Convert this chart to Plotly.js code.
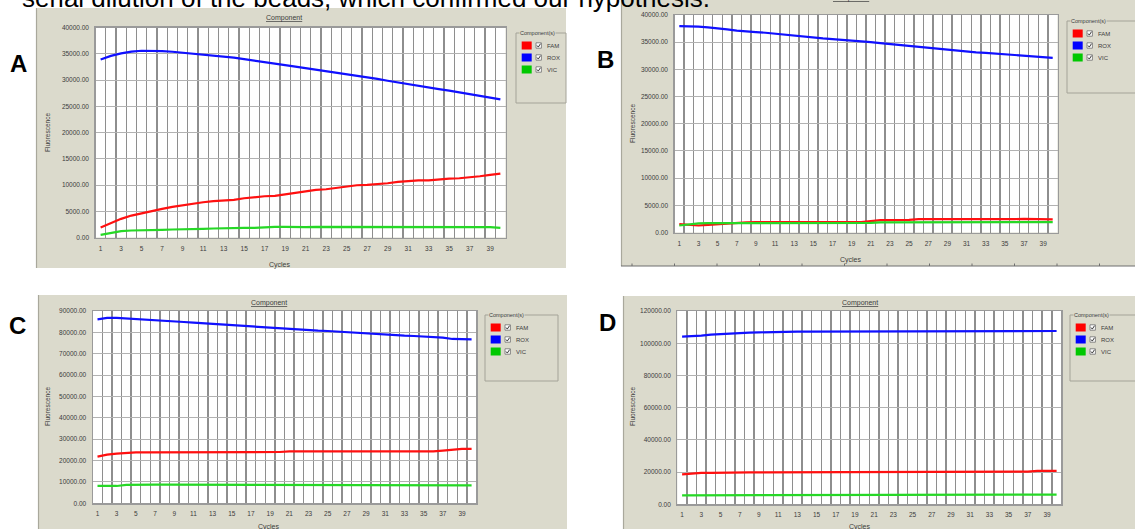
<!DOCTYPE html>
<html>
<head>
<meta charset="utf-8">
<script src="https://cdn.plot.ly/plotly-3.0.1.min.js"></script>
<style>
  html, body { margin: 0; padding: 0; background: #ffffff; }
  #chart { width: 1135px; height: 529px; }
</style>
</head>
<body>
<div id="chart"></div>
<script>
// Cycle axis and tick labels
const cycles = [1,2,3,4,5,6,7,8,9,10,11,12,13,14,15,16,17,18,19,20,
                21,22,23,24,25,26,27,28,29,30,31,32,33,34,35,36,37,38,39,40];
const tickCycles = [1,3,5,7,9,11,13,15,17,19,21,23,25,27,29,31,33,35,37,39];
const seriesNames = ['FAM', 'ROX', 'VIC'];
const panelLabels = ['A', 'B', 'C', 'D'];
const captionText = 'serial dilution of the beads, which confirmed our hypothesis.';

// Panel A
const famA = [1900,2730,3550,4180,4630,5070,5450,5830,6150,6470,
              6720,6910,6970,7160,7480,7730,7860,7930,8240,8500,
              8880,9070,9190,9450,9760,9950,10020,10140,10330,10590,
              10780,10900,10900,11100,11220,11290,11410,11670,11920,12170];
const roxA = [33900,34600,35060,35400,35570,35560,35500,35380,35190,35050,
              34870,34700,34490,34250,33980,33730,33475,33170,32840,32560,
              32270,31980,31700,31450,31190,30880,30560,30210,29860,29510,
              29160,28840,28530,28250,27960,27610,27260,26980,26690,26310];
const vicA = [510,820,1200,1330,1330,1390,1460,1520,1520,1590,
              1650,1710,1780,1780,1840,1840,1970,2030,2030,1970,
              1970,2030,2030,1970,1970,1970,1970,2030,1970,1970,
              1970,1970,1970,1970,1970,1970,1970,1970,1970,1840];

// Panel B
const famB = [1540,1350,1290,1420,1540,1720,1780,1850,1910,1910,
              2030,2030,1970,1910,1910,1910,1910,1910,1910,1910,
              2090,2280,2280,2280,2340,2460,2460,2460,2460,2460,
              2460,2400,2340,2400,2400,2460,2520,2520,2520,2400];
const roxB = [37970,37970,37850,37720,37600,37350,37110,36920,36860,36740,
              36550,36370,36180,36000,35880,35690,35570,35450,35320,35200,
              35020,34830,34650,34460,34280,34090,33910,33790,33660,33420,
              33230,33110,33050,32920,32800,32680,32490,32370,32310,32120];
const vicB = [1290,1480,1660,1720,1720,1660,1660,1660,1660,1660,
              1780,1780,1780,1780,1780,1780,1780,1780,1780,1780,
              1780,1850,1850,1850,1850,1780,1780,1780,1780,1780,
              1850,1850,1850,1850,1850,1910,1910,1910,1910,1910];

// Panel C
const famC = [21840,22780,23240,23710,23870,23870,23870,23870,23870,23870,
              24020,24020,24020,24020,24020,24020,24020,24020,24020,24020,
              24340,24340,24340,24340,24340,24340,24340,24340,24340,24340,
              24020,24020,24020,24340,24340,24340,24650,25120,25430,25430];
const roxC = [86110,86740,86740,86420,86110,85960,85490,85180,85020,84860,
              84550,84240,84080,83930,83620,83300,82990,82680,82370,82060,
              81590,81430,81120,80810,80650,80340,80030,79870,79720,79400,
              79090,78780,78470,78310,78160,77840,77530,76910,76910,76750];
const vicC = [8110,8110,8110,8580,8740,8740,8740,8740,8740,8740,
              8740,8740,8740,8740,8740,8740,8740,8740,8740,8740,
              8740,8740,8740,8740,8740,8740,8740,8740,8740,8740,
              8740,8420,8420,8420,8420,8420,8580,8420,8420,8420];

// Panel D
const famD = [18620,19240,19450,19450,19660,19860,19860,19860,19860,19860,
              19860,19860,19860,19860,19860,19860,19860,19860,19860,20280,
              20280,20280,19860,19860,19860,19860,20280,20280,20280,20280,
              20280,20280,20280,20280,20280,20280,20280,20690,20690,20690];
const roxD = [104070,104280,104690,105310,105730,106140,106350,106550,106760,106970,
              106970,106970,107170,107170,107170,107170,107170,107170,107590,107590,
              107170,107170,107170,107170,107170,107170,107170,107170,107170,107590,
              107170,107170,107170,107170,107590,107590,107170,107170,107170,107590];
const vicD = [5590,5590,6000,6000,6000,6000,6000,6000,6000,6000,
              6000,6000,6000,6000,6000,6000,6000,6000,6000,6000,
              6000,6000,6000,6000,6000,6000,6000,6000,6000,6000,
              6000,6000,6000,6000,6000,6000,6000,6000,6000,6000];

const panelSeries = [[famA, roxA, vicA], [famB, roxB, vicB], [famC, roxC, vicC], [famD, roxD, vicD]];
const panelYMax = [40000, 40000, 90000, 120000];
const panelYStep = [5000, 5000, 10000, 20000];

// ---- styling and placement (pixels in a 1135 x 529 canvas) ----
const W = 1135, H = 529;
const fx = x => x / W;
const fy = y => 1 - y / H;

const lineColors = ['#ff1010', '#1010ff', '#26d826'];
const swatchColors = ['#ff0000', '#0000ff', '#00c800'];
const windowGray = '#dbdacc';
const textGray = '#3c3c3c';
const smallFont = { family: 'Liberation Sans, Arial, sans-serif', size: 6.5, color: textGray };

const frames = [
  { bg: [36, 8, 566, 268], plot: [95.5, 27.5, 505.5, 237.5], legend: [516, 33, 566, 103],
    title: [284, 18], ytitle: [48, 133], xtitle: [280, 265], letter: [18, 63] },
  { bg: [621, 0, 1135, 266], plot: [674.5, 15, 1057.5, 232.5], legend: [1067, 21, 1140, 93],
    title: [851, -2], ytitle: [632, 124], xtitle: [851, 259.5], letter: [605, 60] },
  { bg: [38, 295, 567, 529], plot: [92.7, 311, 476.4, 503.3], legend: [485, 315, 558, 381],
    title: [269, 302.5], ytitle: [47, 407], xtitle: [269, 526.5], letter: [17, 325] },
  { bg: [623, 296, 1135, 529], plot: [677.3, 311, 1061.4, 504.3], legend: [1070, 315, 1140, 381],
    title: [860, 302.5], ytitle: [632, 407], xtitle: [860, 526.5], letter: [607, 322] }
];

const traces = [];
const shapes = [];
const annotations = [];
const layout = {
  width: W, height: H,
  margin: { l: 0, r: 0, t: 0, b: 0 },
  paper_bgcolor: '#ffffff',
  plot_bgcolor: 'rgba(0,0,0,0)',
  showlegend: false,
  font: { family: 'Liberation Sans, Arial, sans-serif', color: textGray }
};

function rect(x0, y0, x1, y1, fill, line, lw) {
  shapes.push({ type: 'rect', xref: 'paper', yref: 'paper', layer: 'below',
    x0: fx(x0), x1: fx(x1), y0: fy(y1), y1: fy(y0),
    fillcolor: fill, line: { color: line || 'rgba(0,0,0,0)', width: lw || 0 } });
}
function seg(x0, y0, x1, y1, color, lw) {
  shapes.push({ type: 'line', xref: 'paper', yref: 'paper', layer: 'below',
    x0: fx(x0), x1: fx(x1), y0: fy(y0), y1: fy(y1), line: { color: color, width: lw } });
}
function label(text, x, y, opts) {
  annotations.push(Object.assign({ text: text, x: fx(x), y: fy(y), xref: 'paper', yref: 'paper',
    showarrow: false, xanchor: 'center', yanchor: 'middle', font: smallFont }, opts || {}));
}

frames.forEach((f, i) => {
  const sfx = i === 0 ? '' : String(i + 1);
  const [L, T, R, B] = f.plot;

  // window background and plot area
  rect(f.bg[0], f.bg[1], f.bg[2], f.bg[3], windowGray);
  seg(f.bg[0] + 0.5, f.bg[1], f.bg[0] + 0.5, f.bg[3], '#a9a89c', 1.2);
  rect(L, T, R, B, '#ffffff');

  layout['xaxis' + sfx] = {
    domain: [fx(L), fx(R)], range: [0.5, 40.5], anchor: 'y' + sfx,
    tickmode: 'array', tickvals: tickCycles, ticktext: tickCycles.map(String),
    ticks: '', ticklabelstandoff: 4, tickfont: smallFont,
    showgrid: false, zeroline: false, showline: true, mirror: true,
    linecolor: '#9a9a9a', linewidth: 1.2,
    minor: { tickmode: 'linear', tick0: 0.5, dtick: 1, showgrid: true,
             gridcolor: '#8e8e8e', gridwidth: 1.4, ticks: '' },
    fixedrange: true
  };
  layout['yaxis' + sfx] = {
    domain: [fy(B), fy(T)], range: [0, panelYMax[i]], anchor: 'x' + sfx,
    tickmode: 'linear', tick0: 0, dtick: panelYStep[i], tickformat: '.2f',
    ticks: '', ticklabelstandoff: 4, tickfont: smallFont,
    showgrid: true, gridcolor: '#b2b2b2', gridwidth: 1,
    zeroline: false, showline: true, mirror: true,
    linecolor: '#9a9a9a', linewidth: 1.2, fixedrange: true
  };

  panelSeries[i].forEach((vals, k) => {
    traces.push({
      type: 'scatter', mode: 'lines', name: seriesNames[k],
      x: cycles, y: vals, xaxis: 'x' + sfx, yaxis: 'y' + sfx,
      line: { color: lineColors[k], width: 2.2 }, hoverinfo: 'skip'
    });
  });

  // titles
  label('<u>Component</u>', f.title[0], f.title[1], { font: Object.assign({}, smallFont, { size: 7 }) });
  label('Fluorescence', f.ytitle[0], f.ytitle[1], { textangle: -90 });
  label('Cycles', f.xtitle[0], f.xtitle[1], { font: Object.assign({}, smallFont, { size: 7 }) });
  label('<b>' + panelLabels[i] + '</b>', f.letter[0], f.letter[1],
    { font: { family: 'Liberation Sans, Arial, sans-serif', size: 24, color: '#000000' } });

  // component legend group box
  const [gl, gt, gr, gb] = f.legend;
  rect(gl, gt, gr, gb, 'rgba(0,0,0,0)', '#a4a398', 1);
  label('Component(s)', gl + 3, gt, { xanchor: 'left', bgcolor: windowGray, borderpad: 0,
    font: Object.assign({}, smallFont, { size: 5.5 }) });
  seriesNames.forEach((name, k) => {
    const rowY = gt + 12.5 + 12 * k;
    rect(gl + 5.7, rowY - 4, gl + 15.7, rowY + 4, swatchColors[k]);
    rect(gl + 20, rowY - 2.7, gl + 25.4, rowY + 2.7, '#ffffff', '#6e6e6e', 0.8);
    shapes.push({ type: 'path', xref: 'paper', yref: 'paper', layer: 'below',
      path: 'M ' + fx(gl + 21) + ' ' + fy(rowY) + ' L ' + fx(gl + 22.3) + ' ' + fy(rowY + 1.6) +
            ' L ' + fx(gl + 24.5) + ' ' + fy(rowY - 1.8),
      line: { color: '#222222', width: 0.9 } });
    label(name, gl + 28.5, rowY, { xanchor: 'left', font: Object.assign({}, smallFont, { size: 6 }) });
  });
});

// edge of a neighbouring window below panel B
seg(621, 266, 1135, 266, '#6f6f6f', 1.2);
for (let x = 632; x < 1135; x += 42.5) {
  seg(x, 266, x, 263.5, '#6f6f6f', 1);
}

// caption line running above the figure
label(captionText, 20, -2, { xanchor: 'left',
  font: { family: 'Liberation Sans, Arial, sans-serif', size: 26, color: '#000000' } });

layout.shapes = shapes;
layout.annotations = annotations;

Plotly.newPlot('chart', traces, layout, { displayModeBar: false, staticPlot: true });
</script>
</body>
</html>
